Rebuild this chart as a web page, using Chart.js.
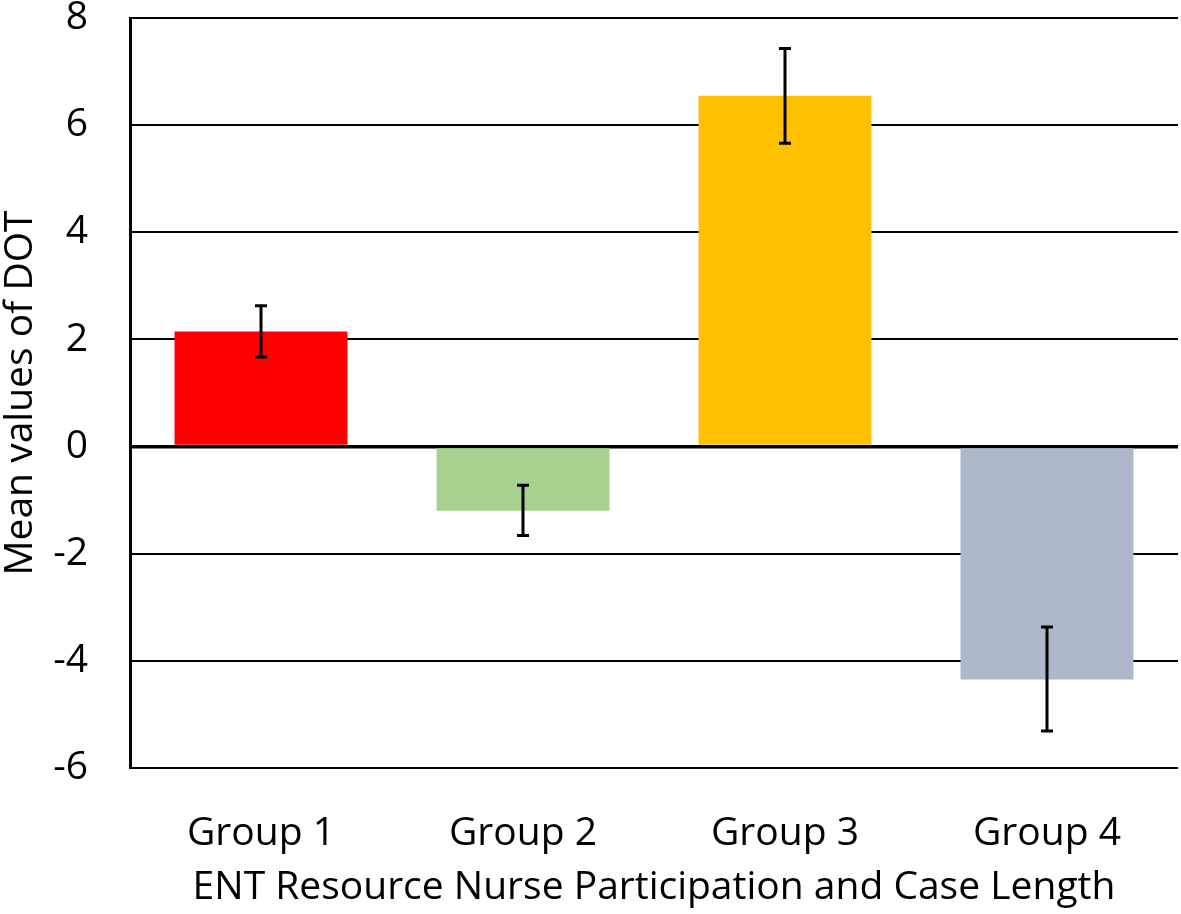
<!DOCTYPE html>
<html>
<head>
<meta charset="utf-8">
<script src="https://cdn.jsdelivr.net/npm/chart.js@4/dist/chart.umd.min.js"></script>
<style>
html,body{margin:0;padding:0;background:#fff;}
#wrap{width:1181px;height:914px;}
</style>
</head>
<body>
<div id="wrap"><canvas id="chart"></canvas></div>
<script>
/* data */
let groups=["Group 1","Group 2","Group 3","Group 4"];
let means=[2.15,-1.2,6.55,-4.35];
let errHigh=[2.63,-0.72,7.43,-3.37];
let errLow=[1.67,-1.66,5.66,-5.31];
let colors=["#ff0000","#a9d18e","#ffc000","#adb9ca"];

let font="'Open Sans', 'Noto Sans', sans-serif";

/* error bars */
let errorBars={
id:"errorBars",
afterDatasetsDraw(c){
let ctx=c.ctx,y=c.scales.y,meta=c.getDatasetMeta(0);
ctx.save();
ctx.strokeStyle="#000";
ctx.lineWidth=3;
meta.data.forEach((bar,i)=>{
let x=bar.x,y1=y.getPixelForValue(errHigh[i]),y2=y.getPixelForValue(errLow[i]);
ctx.beginPath();
ctx.moveTo(x,y1);ctx.lineTo(x,y2);
ctx.moveTo(x-6,y1);ctx.lineTo(x+6,y1);
ctx.moveTo(x-6,y2);ctx.lineTo(x+6,y2);
ctx.stroke();
});
ctx.restore();
}
};

new Chart(document.getElementById("chart"),{
type:"bar",
data:{labels:groups,datasets:[{data:means,backgroundColor:colors,barPercentage:0.66,categoryPercentage:1}]},
plugins:[errorBars],
options:{
responsive:true,maintainAspectRatio:false,animation:false,
layout:{padding:{top:18,right:3,left:0,bottom:0}},
plugins:{legend:{display:false},tooltip:{enabled:false}},
scales:{
x:{
grid:{display:false},
border:{display:false},
ticks:{color:"#000",font:{family:font,size:39},padding:34,maxRotation:0},
title:{display:true,text:"ENT Resource Nurse Participation and Case Length",color:"#000",font:{family:font,size:39},padding:{top:0,bottom:3}},
afterFit(s){s.height=146;}
},
y:{
min:-6,max:8,
ticks:{stepSize:2,color:"#000",font:{family:font,size:39},padding:42},
grid:{color:"#000",lineWidth:ctx=>ctx.tick&&ctx.tick.value===0?3.5:2,drawTicks:false},
border:{color:"#000",width:3},
title:{display:true,text:"Mean values of DOT",color:"#000",font:{family:font,size:39},padding:{top:-3,bottom:0}},
afterFit(s){s.width=130;s.paddingTop=18;s.paddingBottom=0;}
}
}
}
});
</script>
</body>
</html>
